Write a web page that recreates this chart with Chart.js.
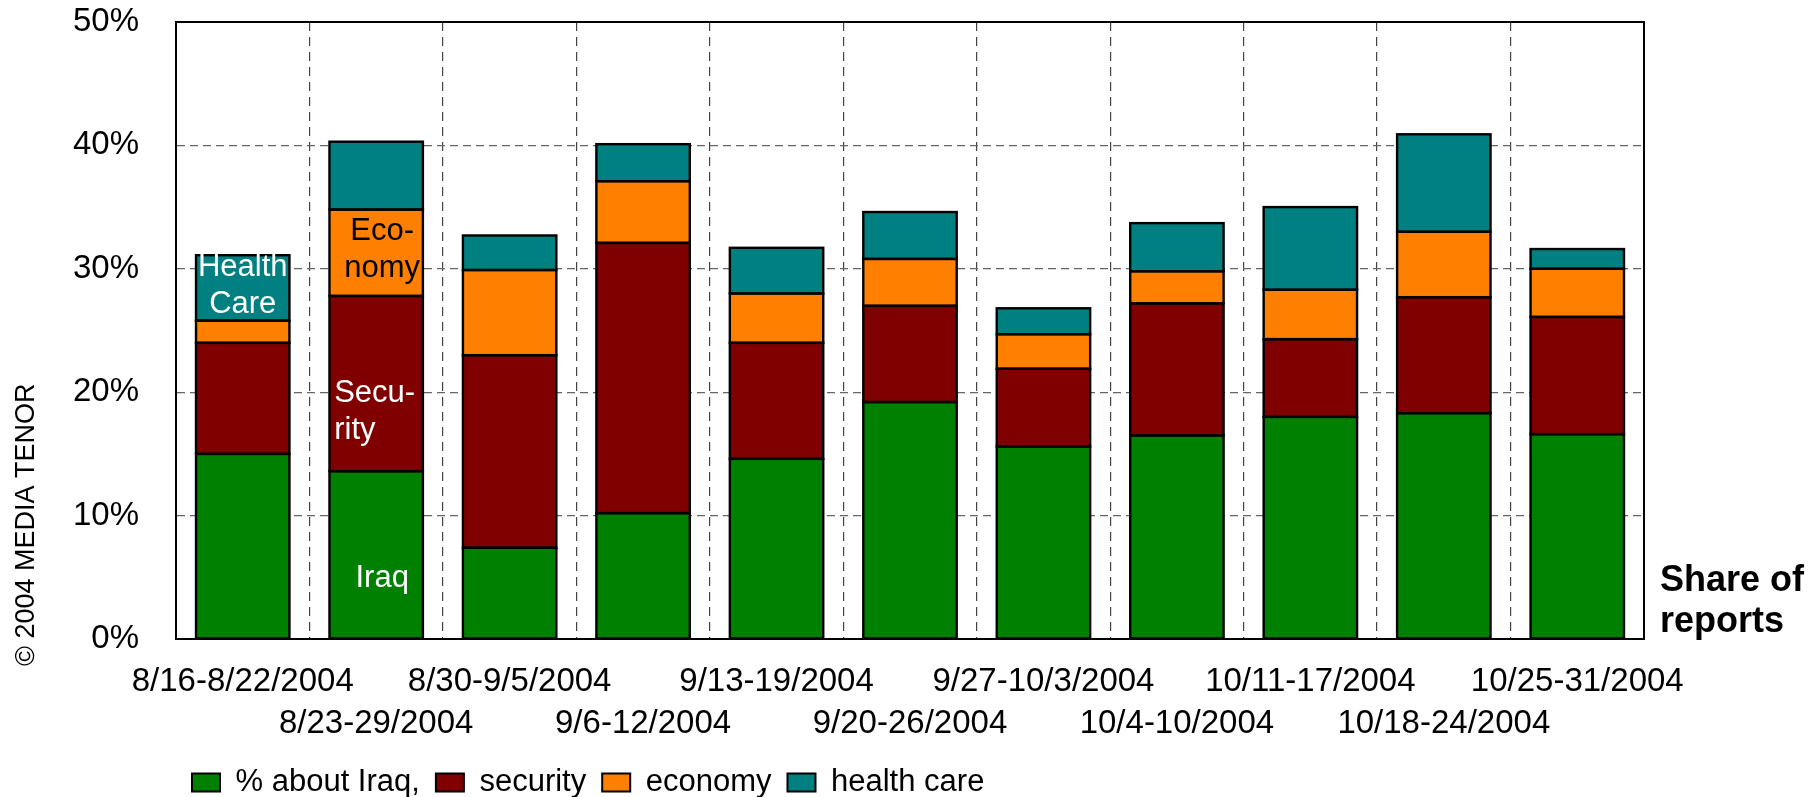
<!DOCTYPE html>
<html>
<head>
<meta charset="utf-8">
<title>Share of reports</title>
<script src="https://cdn.jsdelivr.net/npm/chart.js@4/dist/chart.umd.min.js"></script>
<style>
    html, body { margin: 0; padding: 0; background: #fff; }
    .chart-wrap { position: relative; width: 1818px; height: 797px; }
</style>
</head>
<body>
<div class="chart-wrap"><canvas id="share-chart"></canvas></div>
<script>
const weeks = ['8/16-8/22/2004', '8/23-29/2004', '8/30-9/5/2004', '9/6-12/2004', '9/13-19/2004', '9/20-26/2004',
    '9/27-10/3/2004', '10/4-10/2004', '10/11-17/2004', '10/18-24/2004', '10/25-31/2004'];
const iraq = [15.0, 13.6, 7.4, 10.2, 14.6, 19.2, 15.6, 16.5, 18.0, 18.3, 16.6];
const security = [9.0, 14.2, 15.6, 21.9, 9.4, 7.8, 6.3, 10.7, 6.3, 9.4, 9.5];
const economy = [1.8, 7.0, 6.9, 5.0, 4.0, 3.8, 2.8, 2.6, 4.0, 5.3, 3.9];
const healthCare = [5.3, 5.5, 2.8, 3.0, 3.7, 3.8, 2.1, 3.9, 6.7, 7.9, 1.6];
const yTicks = [0, 10, 20, 30, 40, 50];

// words written inside the first two bars: [text, bar index, value, colour]
const barNotes = [
    ['Health', 0, 30.1, '#ffffff'],
    ['Care', 0, 27.1, '#ffffff'],
    ['Eco-', 1, 33.0, '#000000'],
    ['nomy', 1, 30.0, '#000000'],
    ['Secu-', 1, 19.9, '#ffffff'],
    ['rity', 1, 16.9, '#ffffff'],
    ['Iraq', 1, 4.9, '#ffffff']
];

const FONT = '"Liberation Sans", Arial, sans-serif';

const shareChartHandler = function () {
    this.initialize = function () {
        Chart.defaults.font.family = FONT;
        Chart.defaults.color = '#000';
        _this.loadChart();
    };

    // outlines, frame, notes in bars, copyright and the side caption
    const extrasPlugin = {
        id: 'extras',
        afterDatasetsDraw: function (chart) {
            const ctx = chart.ctx;
            const area = chart.chartArea;
            const x = chart.scales.x;
            const y = chart.scales.y;
            ctx.save();
            ctx.strokeStyle = '#000';
            ctx.lineWidth = 2.4;
            chart.data.datasets.forEach(function (ds, i) {
                chart.getDatasetMeta(i).data.forEach(function (bar) {
                    const p = bar.getProps(['x', 'y', 'base', 'width'], true);
                    ctx.strokeRect(p.x - p.width / 2, Math.min(p.y, p.base), p.width, Math.abs(p.base - p.y));
                });
            });

            ctx.lineWidth = 2;
            ctx.strokeRect(area.left, area.top, area.right - area.left, area.bottom - area.top);

            ctx.font = '31px ' + FONT;
            ctx.textBaseline = 'middle';
            barNotes.forEach(function (note) {
                ctx.fillStyle = note[3];
                let px = x.getPixelForValue(note[1]);
                if (note[0] === 'Secu-' || note[0] === 'rity') {
                    ctx.textAlign = 'left';
                    px -= 42;
                } else {
                    ctx.textAlign = 'center';
                    if (note[1] === 1) px += 6;
                }
                ctx.fillText(note[0], px, y.getPixelForValue(note[2]));
            });
            ctx.restore();
        },
        afterDraw: function (chart) {
            const ctx = chart.ctx;
            const area = chart.chartArea;
            ctx.save();
            ctx.fillStyle = '#000';
            ctx.font = '27px ' + FONT;
            ctx.textAlign = 'left';
            ctx.textBaseline = 'middle';
            ctx.translate(27, 666);
            ctx.rotate(-Math.PI / 2);
            ctx.fillText('\u00A9 2004 MEDIA TENOR', 0, 0);
            ctx.restore();

            ctx.save();
            ctx.fillStyle = '#000';
            ctx.font = 'bold 36px ' + FONT;
            ctx.textAlign = 'left';
            ctx.textBaseline = 'alphabetic';
            ctx.fillText('Share of', area.right + 16, 591);
            ctx.fillText('reports', area.right + 16, 632);
            ctx.restore();
        }
    };

    this.makeDataset = function (label, values, colour) {
        return {
            label: label,
            data: values,
            backgroundColor: colour,
            borderWidth: 0,
            barPercentage: 0.7,
            categoryPercentage: 1.0
        };
    };

    this.legendItems = function (chart) {
        const items = Chart.defaults.plugins.legend.labels.generateLabels(chart);
        items.forEach(function (item) {
            item.lineWidth = 2;
            item.strokeStyle = '#000';
        });
        return items;
    };

    this.loadChart = function () {
        new Chart('share-chart', {
            type: 'bar',
            data: {
                labels: weeks,
                datasets: [
                    _this.makeDataset('% about Iraq,', iraq, '#008000'),
                    _this.makeDataset('security', security, '#800000'),
                    _this.makeDataset('economy', economy, '#ff8000'),
                    _this.makeDataset('health care', healthCare, '#008080')
                ]
            },
            options: {
                responsive: true,
                maintainAspectRatio: false,
                animation: false,
                layout: { padding: { left: 0, right: 174, top: 22, bottom: 0 } },
                plugins: {
                    tooltip: { enabled: false },
                    legend: {
                        position: 'bottom',
                        align: 'start',
                        fullSize: false,
                        maxHeight: 46,
                        labels: {
                            boxWidth: 28,
                            boxHeight: 18,
                            padding: 16,
                            color: '#000',
                            font: { size: 31 },
                            generateLabels: _this.legendItems
                        }
                    }
                },
                scales: {
                    x: {
                        stacked: true,
                        afterFit: function (scale) { scale.height = 112; },
                        grid: {
                            offset: true,
                            drawTicks: false,
                            color: '#444',
                            lineWidth: 1.2
                        },
                        border: { color: '#000', width: 2, dash: [9, 6] },
                        ticks: {
                            autoSkip: false,
                            maxRotation: 0,
                            minRotation: 0,
                            padding: 22,
                            font: { size: 33, lineHeight: 1.27 },
                            callback: function (value, index) {
                                const text = weeks[index];
                                return index % 2 === 0 ? [text] : ['', text];
                            }
                        }
                    },
                    y: {
                        stacked: true,
                        min: yTicks[0],
                        max: yTicks[yTicks.length - 1],
                        afterFit: function (scale) { scale.width = 176; },
                        afterBuildTicks: function (scale) {
                            scale.ticks = yTicks.map(function (v) { return { value: v }; });
                        },
                        grid: {
                            drawTicks: true,
                            tickLength: 35,
                            tickColor: 'rgba(0,0,0,0)',
                            color: '#666',
                            lineWidth: 1.2
                        },
                        border: { color: '#000', width: 2, dash: [8, 5] },
                        ticks: {
                            padding: 2,
                            font: { size: 33 },
                            callback: function (value) { return value + '%'; }
                        }
                    }
                }
            },
            plugins: [extrasPlugin]
        });
    };

    const _this = this;
    this.initialize();
};

window.addEventListener('load', function () {
    new shareChartHandler();
});
</script>
</body>
</html>
